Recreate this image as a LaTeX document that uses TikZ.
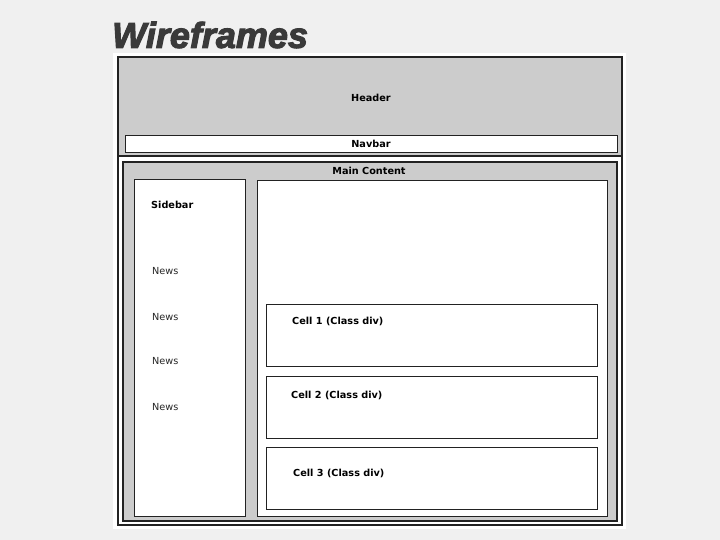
\documentclass[tikz,border=0pt]{standalone}
\usepackage{fontspec}
\setmainfont{DejaVu Sans}
\newfontfamily\titlefont{Liberation Sans}
\definecolor{bgc}{HTML}{F0F0F0}
\definecolor{boxgray}{HTML}{CCCCCC}
\definecolor{titlec}{HTML}{3A3A3A}
\definecolor{edgec}{HTML}{222222}
\newcommand{\heavytext}[1]{\special{pdf:literal direct 2 Tr 1.1 w 0.227 0.227 0.227 RG}#1\special{pdf:literal direct 0 Tr}}
\begin{document}
\begin{tikzpicture}[x=1pt,y=-1pt,
  box/.style={draw=edgec,line width=0.9pt,inner sep=0pt,outer sep=0pt,anchor=north west},
  lbl/.style={font=\fontsize{9.7}{11}\selectfont\bfseries,text=black,inner sep=0pt},
  news/.style={font=\fontsize{9.7}{11}\selectfont,text=black!85,inner sep=0pt,anchor=west}]
\useasboundingbox (0,0) rectangle (720,540);
\fill[bgc] (0,0) rectangle (720,540);
\fill[white] (113,53) rectangle (626,529);
% outer frame
\node[box,fill=boxgray,line width=1.6pt,minimum width=504pt,minimum height=99pt] (header) at (118,57) {};
\node[box,fill=white,line width=1.6pt,minimum width=504pt,minimum height=369pt] (body) at (118,156) {};
\node[box,fill=white,minimum width=492pt,minimum height=17pt] (navbar) at (125,135) {};
\node[box,fill=boxgray,line width=1.6pt,minimum width=494pt,minimum height=359pt] (main) at (123,162) {};
\node[box,fill=white,minimum width=111pt,minimum height=337pt] (sidebar) at (134,179) {};
\node[box,fill=white,minimum width=350pt,minimum height=336pt] (content) at (257,180) {};
\node[box,fill=white,minimum width=331pt,minimum height=62pt] (cell1) at (266,304) {};
\node[box,fill=white,minimum width=331pt,minimum height=62pt] (cell2) at (266,376) {};
\node[box,fill=white,minimum width=331pt,minimum height=62pt] (cell3) at (266,447) {};
% title
\node[font=\titlefont\fontsize{36}{40}\selectfont\bfseries\itshape,text=titlec,anchor=west,inner sep=0pt] (title) at (112,35) {\heavytext{Wireframes}};
% labels
\node[lbl] (tHeader) at (371,98) {Header};
\node[lbl] (tNavbar) at (371,143.5) {Navbar};
\node[lbl] (tMain) at (369,171) {Main Content};
\node[lbl,anchor=west] (tSide) at (151,204.5) {Sidebar};
\node[news] (n1) at (152,271.5) {News};
\node[news] (n2) at (152,317.5) {News};
\node[news] (n3) at (152,361.5) {News};
\node[news] (n4) at (152,407.5) {News};
\node[lbl,anchor=west] (c1) at (292,321.5) {Cell 1 (Class div)};
\node[lbl,anchor=west] (c2) at (291,395.5) {Cell 2 (Class div)};
\node[lbl,anchor=west] (c3) at (293,473.5) {Cell 3 (Class div)};
\end{tikzpicture}
\end{document}
